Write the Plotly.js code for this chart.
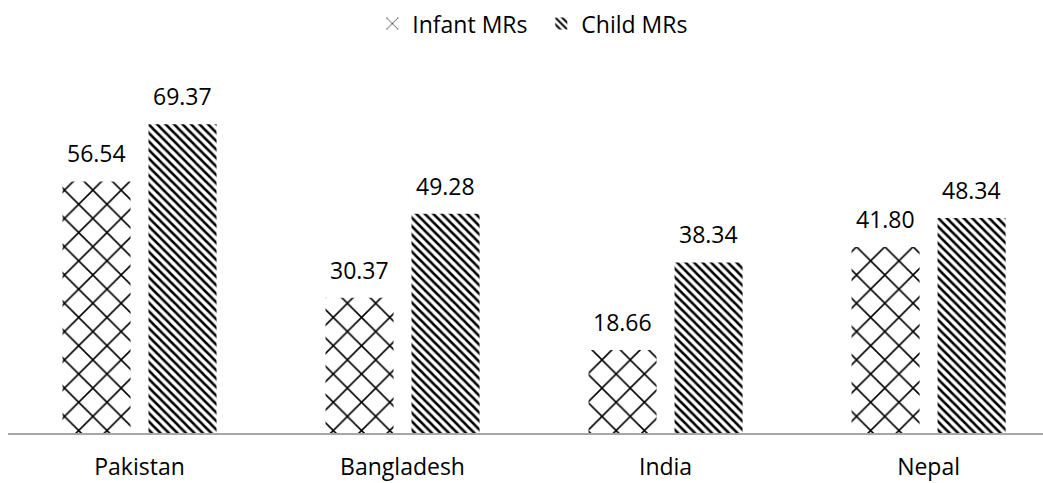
<!DOCTYPE html>
<html><head><meta charset="utf-8">
<script src="https://cdn.plot.ly/plotly-3.0.1.min.js"></script>
<style>html,body{margin:0;padding:0;background:#fff}</style>
</head><body>
<div id="chart" style="width:1043px;height:483px"></div>
<script>
const countries = ["Pakistan", "Bangladesh", "India", "Nepal"];
const infantMRs = [56.54, 30.37, 18.66, 41.80];
const childMRs = [69.37, 49.28, 38.34, 48.34];
const seriesNames = ["Infant MRs", "Child MRs"];

const fmt = v => v.toFixed(2);
const FAM = "Open Sans, Noto Sans, sans-serif";
const font = {family: FAM, size: 23, color: "#000"};
const bargap = 0.346;
const half = (1 - bargap) / 4;

const traces = [
  {type: "bar", name: seriesNames[0], x: countries, y: infantMRs,
   marker: {color: "#fff", line: {width: 0},
            pattern: {shape: "x", fgcolor: "#000", bgcolor: "#fff", size: 20, solidity: 0.15}}},
  {type: "bar", name: seriesNames[1], x: countries, y: childMRs,
   marker: {color: "#fff", line: {width: 0},
            pattern: {shape: "\\", fgcolor: "#000", bgcolor: "#fff", size: 6, solidity: 0.42}}}
];

const annotations = [];
countries.forEach((c, i) => {
  annotations.push({x: i - half, y: infantMRs[i], xref: "x", yref: "y", text: fmt(infantMRs[i]),
    showarrow: false, yanchor: "bottom", yshift: 10, font: font});
  annotations.push({x: i + half, y: childMRs[i], xref: "x", yref: "y", text: fmt(childMRs[i]),
    showarrow: false, yanchor: "bottom", yshift: 10, font: font});
});

const layout = {
  width: 1043, height: 483,
  margin: {l: 8, r: 0, t: 77, b: 50, autoexpand: false},
  paper_bgcolor: "#fff", plot_bgcolor: "#fff",
  font: font,
  barmode: "group", bargap: bargap, bargroupgap: 0.209,
  showlegend: true,
  legend: {orientation: "h", x: 0.352, xanchor: "left", y: 1.15, yanchor: "middle",
           itemwidth: 30, entrywidth: 124, entrywidthmode: "pixels",
           font: {family: FAM, size: 23, color: "#000"}},
  annotations: annotations,
  xaxis: {range: [-0.5, 3.435], showline: true, linecolor: "#a6a6a6", linewidth: 1.5,
          ticks: "", ticklabelstandoff: 13, tickfont: font, showgrid: false, zeroline: false, fixedrange: true},
  yaxis: {range: [0, 80], visible: false, showgrid: false, zeroline: false, fixedrange: true}
};

Plotly.newPlot("chart", traces, layout, {displayModeBar: false, staticPlot: true});
</script>
</body></html>
